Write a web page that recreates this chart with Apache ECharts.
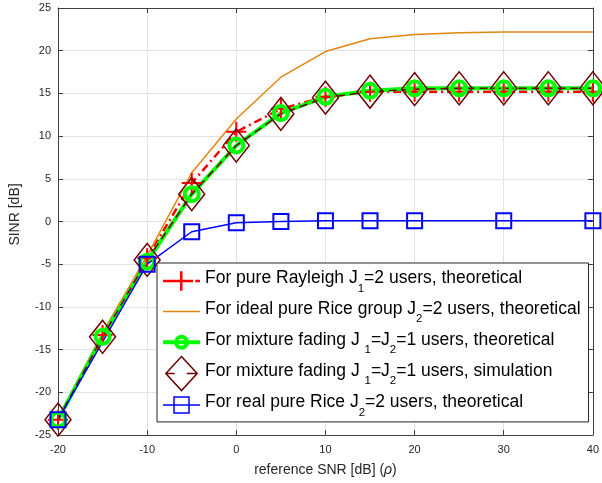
<!DOCTYPE html>
<html>
<head>
<meta charset="utf-8">
<script src="https://cdn.jsdelivr.net/npm/echarts@6/dist/echarts.min.js"></script>
<style>html,body{margin:0;padding:0;background:#fff;}#c{width:602px;height:483px;}</style>
</head>
<body>
<div id="c"></div>
<script>
const snr = [-20, -15, -10, -5, 0, 5, 10, 15, 20, 25, 30, 35, 40];
const rayleighTheo = [-23.2, -13.3, -4.3, 4.5, 10.5, 13.2, 14.6, 15.2, 15.2, 15.2, 15.2, 15.2, 15.2];
const idealRiceTheo = [-23.0, -13.0, -4.0, 5.7, 12.0, 16.9, 19.9, 21.4, 21.9, 22.1, 22.2, 22.2, 22.2];
const mixtureTheo = [-23.2, -13.5, -4.7, 3.2, 8.9, 12.7, 14.6, 15.3, 15.6, 15.6, 15.6, 15.6, 15.6];
const mixtureSim = [-23.2, -13.5, -4.5, 3.2, 8.9, 12.6, 14.5, 15.2, 15.5, 15.6, 15.6, 15.6, 15.6];
const realRiceSnr = [-20, -10, -5, 0, 5, 10, 15, 20, 30, 40];
const realRiceTheo = [-23.2, -5.0, -1.2, -0.15, 0.0, 0.1, 0.1, 0.1, 0.1, 0.1];
const xTicks = [-20, -10, 0, 10, 20, 30, 40];
const yTicks = [-25, -20, -15, -10, -5, 0, 5, 10, 15, 20, 25];

const names = [
  '{m|For pure Rayleigh J}{s|1}{m|=2 users, theoretical}',
  '{m|For ideal pure Rice group J}{s|2}{m|=2 users, theoretical}',
  '{m|For mixture fading J }{s|1}{m|=J}{s|2}{m|=1 users, theoretical}',
  '{m|For mixture fading J }{s|1}{m|=J}{s|2}{m|=1 users, simulation}',
  '{m|For real pure Rice J}{s|2}{m|=2 users, theoretical}'
];
function pairs(xs, ys) { return xs.map((x, i) => [x, ys[i]]); }
const plus = 'path://M9,0H11V9H20V11H11V20H9V11H0V9H9Z';
const font = 'Liberation Sans, Arial, Helvetica, sans-serif';
const axisCol = '#262626';

const legendIcons = [
  'path://M0,15.75H30V18.25H0Z M32.3,15.75H37V18.25H32.3Z M17,7.25H19.5V26.75H17Z',
  'path://M0,16.25H37V17.75H0Z',
  'path://M0,17H37 M24,17A5.5,5.5 0 1 0 13,17A5.5,5.5 0 1 0 24,17Z',
  'path://M16,0.75L31,17L16,33.25L1,17Z M1,17H9.5 M21,17H30',
  'path://M0,17H37 M11,9H26V25H11Z'
];

const chart = echarts.init(document.getElementById('c'), null, {renderer: 'canvas'});
const axisCommon = {
  type: 'value',
  axisLine: {show: true, onZero: false, lineStyle: {color: '#404040', width: 1}},
  axisTick: {show: true, inside: true, length: 5, lineStyle: {color: '#404040'}},
  splitLine: {show: true, lineStyle: {color: '#e3e3e3', width: 1}},
  axisLabel: {color: axisCol, fontFamily: font, fontSize: 11}
};
chart.setOption({
  animation: false,
  backgroundColor: '#fff',
  grid: {left: 55, right: 5, top: 8, bottom: 48, containLabel: false},
  xAxis: [
    Object.assign({}, axisCommon, {
      position: 'bottom', min: -20, max: 40, interval: 10,
      name: 'reference SNR [dB] ({i|ρ})', nameLocation: 'middle', nameGap: 28,
      nameTextStyle: {color: axisCol, fontFamily: font, fontSize: 14,
        rich: {i: {fontStyle: 'italic', fontFamily: font, fontSize: 14, color: axisCol}}},
      axisLabel: {color: axisCol, fontFamily: font, fontSize: 11, margin: 9,
        formatter: v => xTicks.indexOf(v) >= 0 ? String(v) : ''}
    }),
    Object.assign({}, axisCommon, {
      position: 'top', min: -20, max: 40, interval: 10,
      axisLabel: {show: false}, splitLine: {show: false}
    })
  ],
  yAxis: [
    Object.assign({}, axisCommon, {
      position: 'left', min: -25, max: 25, interval: 5,
      name: 'SINR [dB]', nameLocation: 'middle', nameGap: 36,
      nameTextStyle: {color: axisCol, fontFamily: font, fontSize: 14, padding: [0, 0, 0, 14]},
      axisLabel: {color: axisCol, fontFamily: font, fontSize: 11, margin: 7,
        formatter: v => yTicks.indexOf(v) >= 0 ? String(v) : ''}
    }),
    Object.assign({}, axisCommon, {
      position: 'right', min: -25, max: 25, interval: 5,
      axisLabel: {show: false}, splitLine: {show: false}
    })
  ],
  legend: {
    orient: 'vertical',
    left: 157, top: 263,
    width: 432,
    padding: [1, 8, 0, 4],
    backgroundColor: '#fff',
    borderColor: '#262626', borderWidth: 1,
    itemWidth: 37, itemHeight: 34, itemGap: -3.4,
    symbolKeepAspect: true,
    textStyle: {color: '#000', fontFamily: font, fontSize: 17.5, backgroundColor: 'rgba(255,255,255,0)',
      rich: {
        m: {fontSize: 17.5, lineHeight: 34, padding: [0, 0, 5, 0], verticalAlign: 'middle', fontFamily: font, color: '#000'},
        s: {fontSize: 11.5, lineHeight: 20, padding: [15, 0, 0, 0], verticalAlign: 'middle', fontFamily: font, color: '#000'}
      }},
    data: [
      {name: names[0], icon: legendIcons[0], itemStyle: {borderWidth: 0}},
      {name: names[1], icon: legendIcons[1], itemStyle: {borderWidth: 0}},
      {name: names[2], icon: legendIcons[2], itemStyle: {borderWidth: 4}},
      {name: names[3], icon: legendIcons[3], itemStyle: {borderWidth: 1.5}},
      {name: names[4], icon: legendIcons[4], itemStyle: {borderWidth: 1.5}}
    ]
  },
  series: [
    {
      name: names[0], type: 'line', data: pairs(snr, rayleighTheo),
      symbol: plus, symbolSize: 20, showAllSymbol: true,
      lineStyle: {color: '#ff0000', width: 2.5, type: [8, 4, 2, 4]},
      itemStyle: {color: '#ff0000'}
    },
    {
      name: names[1], type: 'line', data: pairs(snr, idealRiceTheo),
      symbol: 'none',
      lineStyle: {color: '#e0870f', width: 1.5},
      itemStyle: {color: '#e0870f'}
    },
    {
      name: names[2], type: 'line', data: pairs(snr, mixtureTheo),
      symbol: 'circle', symbolSize: 14, showAllSymbol: true,
      lineStyle: {color: '#00ff00', width: 4},
      itemStyle: {color: 'rgba(0,0,0,0)', borderColor: '#00ff00', borderWidth: 4}
    },
    {
      name: names[3], type: 'line', data: pairs(snr, mixtureSim),
      symbol: 'diamond', symbolSize: [26, 33], showAllSymbol: true,
      lineStyle: {color: '#6e0000', width: 1.5, type: [8, 5]},
      itemStyle: {color: 'rgba(0,0,0,0)', borderColor: '#6e0000', borderWidth: 1.5}
    },
    {
      name: names[4], type: 'line', data: pairs(realRiceSnr, realRiceTheo),
      symbol: 'rect', symbolSize: 15, showAllSymbol: true,
      lineStyle: {color: '#0000ff', width: 1.5},
      itemStyle: {color: 'rgba(0,0,0,0)', borderColor: '#0000ff', borderWidth: 2}
    }
  ]
});
</script>
</body>
</html>
